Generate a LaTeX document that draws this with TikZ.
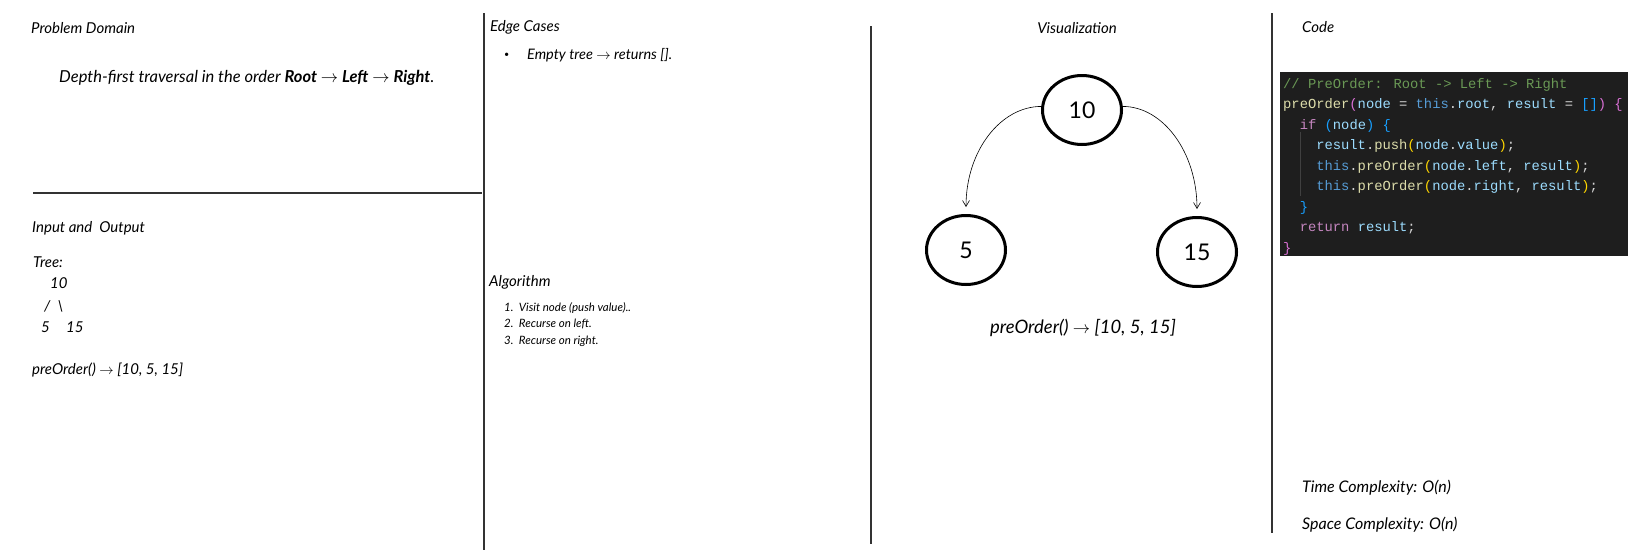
\documentclass[tikz,border=0pt]{standalone}
\usepackage{fontspec}
\setmainfont{Lato}
\newfontfamily\codefont{Liberation Mono}
\newfontfamily\numfont{Lato}
\usetikzlibrary{shapes.geometric,arrows.meta}
\definecolor{rule}{HTML}{333333}
\definecolor{codebg}{HTML}{1E1E1E}
\definecolor{cmt}{HTML}{6A9955}
\definecolor{fn}{HTML}{DCDCAA}
\definecolor{var}{HTML}{9CDCFE}
\definecolor{kw}{HTML}{569CD6}
\definecolor{ctl}{HTML}{C586C0}
\definecolor{op}{HTML}{D4D4D4}
\definecolor{brA}{HTML}{FFD700}
\definecolor{brB}{HTML}{DA70D6}
\definecolor{brC}{HTML}{179FFF}
\definecolor{guide}{HTML}{404040}
\newcommand{\cc}[2]{\textcolor{#1}{#2}}
\tikzset{
  sep/.style={draw=rule,line width=1.3pt},
  title/.style={anchor=west,inner sep=0pt,font=\fontsize{15}{18}\selectfont\itshape},
  body/.style={anchor=west,inner sep=0pt,font=\fontsize{15}{18}\selectfont\itshape},
  small/.style={anchor=west,inner sep=0pt,font=\fontsize{11.5}{14}\selectfont\itshape},
  codeline/.style={anchor=base west,inner sep=0pt,text=op,font=\codefont\fontsize{13.8}{16}\selectfont},
  treenode/.style={ellipse,draw=black,line width=3pt,minimum width=79pt,minimum height=69pt,inner sep=0pt,font=\numfont\fontsize{23}{26}\selectfont},
  edge/.style={draw=black,line width=0.6pt,-{Straight Barb[length=6pt,width=7pt]}}
}
\begin{document}
\begin{tikzpicture}[x=1pt,y=-1pt]
\useasboundingbox (0,0) rectangle (1636,552);
\fill[white] (0,0) rectangle (1636,552);
% separators
\draw[sep] (33,193) -- (482,193);
\draw[sep] (484,13) -- (484,550);
\draw[sep] (871,26) -- (871,544);
\draw[sep] (1272,13) -- (1272,533);
% Problem Domain
\node[title] (pdt) at (31,28) {Problem Domain};
\node[title,font=\fontsize{16.5}{20}\selectfont\itshape] (pdx) at (59,78) {Depth-first traversal in the order \textbf{Root} $\rightarrow$ \textbf{Left} $\rightarrow$ \textbf{Right}.};
% Input and Output
\node[title] (iot) at (32,228) {Input and\ \ Output};
\node[body] (tree) at (33,262) {Tree:};
\node[body] (t10) at (50,283) {10};
\node[body] (tsl) at (44,306) {/\ \ \textbackslash};
\node[body] (t5) at (41,327) {5};
\node[body] (t15) at (66,327) {15};
\node[body] (io) at (32,370) {preOrder() $\rightarrow$ [10, 5, 15]};
% Edge cases
\node[title] (ect) at (490,27) {Edge Cases};
\node[body,font=\fontsize{9}{10}\selectfont] (bul) at (504,55) {\textbullet};
\node[body,font=\fontsize{14.5}{17}\selectfont\itshape] (ec1) at (527,55) {Empty tree $\rightarrow$ returns [].};
% Algorithm
\node[title] (alt) at (489,282) {Algorithm};
\node[small] (a1) at (504,308) {1.\ \ Visit node (push value)..};
\node[small] (a2) at (504,324) {2.\ \ Recurse on left.};
\node[small] (a3) at (504,341) {3.\ \ Recurse on right.};
% Visualization
\node[title,anchor=center] (vt) at (1077,28) {Visualization};
\node[treenode] (n10) at (1082,110) {10};
\node[treenode] (n5) at (966,250) {5};
\node[treenode] (n15) at (1197,252) {15};
\draw[edge,shorten >=7pt] (n10.175) .. controls +(-40,0) and +(0,-64) .. (n5.north);
\draw[edge,shorten >=7pt] (n10.5) .. controls +(40,0) and +(0,-64) .. (n15.north);
\node[body,anchor=center,font=\fontsize{18.5}{22}\selectfont\itshape] (vo) at (1083,328) {preOrder() $\rightarrow$ [10, 5, 15]};
% Code
\node[title] (cdt) at (1302,27) {Code};
\fill[codebg] (1280,72) rectangle (1628,256);
\draw[guide,line width=0.8pt] (1300,132) -- (1300,196);
\node[codeline] (c1) at (1283,88) {\cc{cmt}{// PreOrder: Root -> Left -> Right}};
\node[codeline] (c2) at (1283,108.5) {\cc{fn}{preOrder}\cc{brB}{(}\cc{var}{node} = \cc{kw}{this}.\cc{var}{root}, \cc{var}{result} = \cc{brC}{[]}\cc{brB}{)} \cc{brB}{\{}};
\node[codeline] (c3) at (1299.6,129) {\cc{ctl}{if} \cc{brC}{(}\cc{var}{node}\cc{brC}{)} \cc{brC}{\{}};
\node[codeline] (c4) at (1316.1,149.5) {\cc{var}{result}.\cc{fn}{push}\cc{brA}{(}\cc{var}{node}.\cc{var}{value}\cc{brA}{)};};
\node[codeline] (c5) at (1316.1,170) {\cc{kw}{this}.\cc{fn}{preOrder}\cc{brA}{(}\cc{var}{node}.\cc{var}{left}, \cc{var}{result}\cc{brA}{)};};
\node[codeline] (c6) at (1316.1,190.5) {\cc{kw}{this}.\cc{fn}{preOrder}\cc{brA}{(}\cc{var}{node}.\cc{var}{right}, \cc{var}{result}\cc{brA}{)};};
\node[codeline] (c7) at (1299.6,211) {\cc{brC}{\}}};
\node[codeline] (c8) at (1299.6,231.5) {\cc{ctl}{return} \cc{var}{result};};
\node[codeline] (c9) at (1283,252) {\cc{brB}{\}}};
% Complexity
\node[title,font=\fontsize{16}{19}\selectfont\itshape] (tc) at (1302,488) {Time Complexity: O(n)};
\node[title,font=\fontsize{16}{19}\selectfont\itshape] (sc) at (1302,525) {Space Complexity: O(n)};
\end{tikzpicture}
\end{document}
